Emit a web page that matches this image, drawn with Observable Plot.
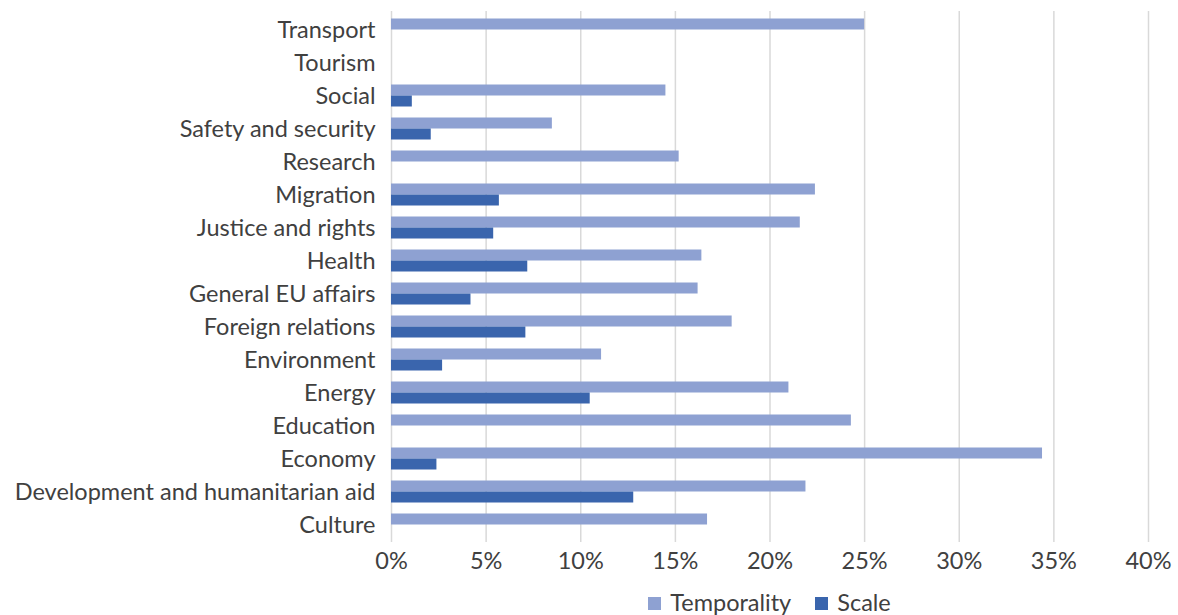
<!DOCTYPE html>
<html>
<head>
<meta charset="utf-8">
<script src="https://cdn.jsdelivr.net/npm/d3@7"></script>
<script src="https://cdn.jsdelivr.net/npm/@observablehq/plot@0.6"></script>
<style>
  body { margin: 0; background: #fff; font-family: Lato, "Open Sans", sans-serif; }
  #chart svg { display: block; }
  #legend { position: absolute; left: 391px; top: 588px; width: 757px; text-align: center; font-size: 23.5px; color: #404040; white-space: nowrap; }
  #legend span.sw { display: inline-block; width: 13px; height: 13px; margin-right: 9px; vertical-align: 1px; }
  #legend span.item { margin: 0 12px; }
</style>
</head>
<body>
<div id="chart"></div>
<div id="legend"></div>
<script>
const categories = ["Transport","Tourism","Social","Safety and security","Research","Migration","Justice and rights","Health","General EU affairs","Foreign relations","Environment","Energy","Education","Economy","Development and humanitarian aid","Culture"];
const temporality = [25.0, 0, 14.5, 8.5, 15.2, 22.4, 21.6, 16.4, 16.2, 18.0, 11.1, 21.0, 24.3, 34.4, 21.9, 16.7];
const scale = [0, 0, 1.1, 2.1, 0, 5.7, 5.4, 7.2, 4.2, 7.1, 2.7, 10.5, 0, 2.4, 12.8, 0];
const seriesNames = ["Temporality", "Scale"];
const seriesColors = ["#8EA1D2", "#3A65AD"];
const xTicks = [0, 5, 10, 15, 20, 25, 30, 35, 40];

const tData = categories.map((c, i) => ({category: c, value: temporality[i]})).filter(d => d.value > 0);
const sData = categories.map((c, i) => ({category: c, value: scale[i]})).filter(d => d.value > 0);

const chart = Plot.plot({
  width: 1178,
  height: 575,
  marginLeft: 391,
  marginRight: 30,
  marginTop: 11,
  marginBottom: 33,
  style: {fontFamily: "Lato, 'Open Sans', sans-serif", fontSize: "23.5px", color: "#404040"},
  x: {domain: [0, 40], ticks: xTicks, tickFormat: d => d + "%", label: null},
  y: {domain: categories, padding: 0, label: null},
  marks: [
    Plot.gridX(xTicks, {stroke: "#d9d9d9", strokeOpacity: 1, strokeWidth: 1.5}),
    Plot.barX(tData, {x: "value", y: "category", fill: seriesColors[0], insetTop: 11, insetBottom: 11, dy: -5.5}),
    Plot.barX(sData, {x: "value", y: "category", fill: seriesColors[1], insetTop: 11, insetBottom: 11, dy: 5.5}),
    Plot.axisX({ticks: xTicks, tickFormat: d => d + "%", tickSize: 0, tickPadding: 10, fontSize: 23.5, fill: "#404040", label: null}),
    Plot.axisY({tickSize: 0, tickPadding: 16, fontSize: 23.5, fill: "#404040", label: null})
  ]
});
document.getElementById("chart").appendChild(chart);

const legend = document.getElementById("legend");
legend.innerHTML = seriesNames.map((n, i) =>
  `<span class="item"><span class="sw" style="background:${seriesColors[i]}"></span>${n}</span>`).join("");
</script>
</body>
</html>
